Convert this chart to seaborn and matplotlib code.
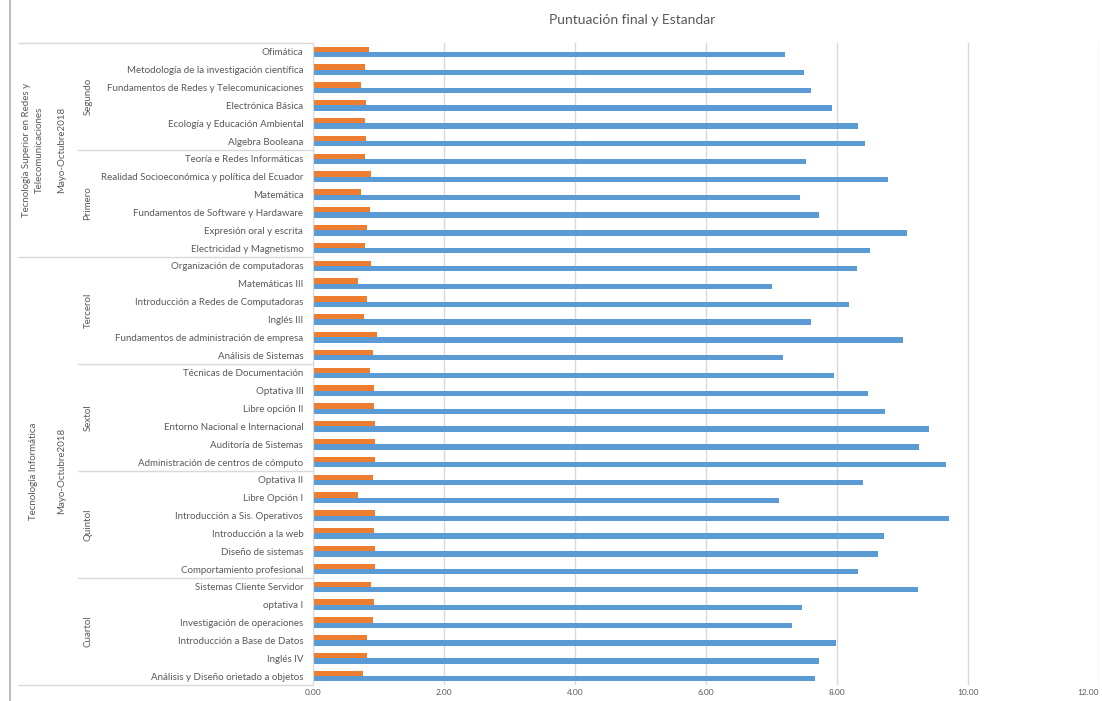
import numpy as np
import pandas as pd
import seaborn as sns
import matplotlib.pyplot as plt
from matplotlib.transforms import blended_transform_factory


# subjects top to bottom as shown in the chart
subjects = [
    'Ofimática', 'Metodología de la investigación científica',
    'Fundamentos de Redes y Telecomunicaciones', 'Electrónica Básica',
    'Ecología y Educación Ambiental', 'Algebra Booleana',
    'Teoría e Redes Informáticas', 'Realidad Socioeconómica y política del Ecuador',
    'Matemática', 'Fundamentos de Software y Hardaware',
    'Expresión oral y escrita', 'Electricidad y Magnetismo',
    'Organización de computadoras', 'Matemáticas III',
    'Introducción a Redes de Computadoras', 'Inglés III',
    'Fundamentos de administración de empresa', 'Análisis de Sistemas',
    'Técnicas de Documentación', 'Optativa III', 'Libre opción II',
    'Entorno Nacional e Internacional', 'Auditoría de Sistemas',
    'Administración de centros de cómputo',
    'Optativa II', 'Libre Opción I', 'Introducción a Sis. Operativos',
    'Introducción a la web', 'Diseño de sistemas', 'Comportamiento profesional',
    'Sistemas Cliente Servidor', 'optativa I', 'Investigación de operaciones',
    'Introducción a Base de Datos', 'Inglés IV', 'Análisis y Diseño orietado a objetos',
]
puntuacion_final = [
    7.21, 7.50, 7.60, 7.93, 8.32, 8.42,
    7.52, 8.78, 7.43, 7.72, 9.07, 8.50,
    8.30, 7.00, 8.18, 7.60, 9.01, 7.18,
    7.96, 8.48, 8.74, 9.40, 9.25, 9.67,
    8.40, 7.12, 9.71, 8.71, 8.63, 8.32,
    9.23, 7.46, 7.31, 7.98, 7.72, 7.66,
]
estandar = [
    0.85, 0.79, 0.74, 0.81, 0.79, 0.81,
    0.79, 0.89, 0.73, 0.87, 0.83, 0.79,
    0.89, 0.68, 0.83, 0.78, 0.97, 0.91,
    0.87, 0.93, 0.93, 0.95, 0.95, 0.95,
    0.91, 0.68, 0.95, 0.93, 0.95, 0.95,
    0.89, 0.93, 0.91, 0.83, 0.83, 0.76,
]
semesters = ['Segundo', 'Primero', 'Tercerol', 'Sextol', 'Quintol', 'Cuartol']
semester_counts = [6, 6, 6, 6, 6, 6]
careers = ['Tecnología Superior en Redes y\nTelecomunicaciones', 'Tecnología Informática']
career_counts = [12, 24]
periodo = 'Mayo-Octubre2018'

df = pd.DataFrame({
    'Asignatura': subjects * 2,
    'Serie': ['Puntuación final'] * len(subjects) + ['Estandar'] * len(subjects),
    'Valor': puntuacion_final + estandar,
})

sns.set_style('white')
plt.rcParams['font.family'] = ['Lato', 'DejaVu Sans']
gray = '#595959'
line_gray = '#D9D9D9'

W, H = 1102, 701
fig = plt.figure(figsize=(W / 100, H / 100), dpi=100)
ax = fig.add_axes([313 / W, 16 / H, 786 / W, 642 / H])

sns.barplot(data=df, x='Valor', y='Asignatura', hue='Serie', order=subjects,
            hue_order=['Estandar', 'Puntuación final'],
            palette={'Estandar': '#ED7D31', 'Puntuación final': '#5B9BD5'},
            saturation=1, orient='h', width=0.6, linewidth=0, errorbar=None,
            legend=False, ax=ax)

ax.set_xlim(0, 12)
ax.set_ylim(len(subjects) - 0.5, -0.5)
ax.set_xticks(np.arange(0, 13, 2))
ax.xaxis.set_major_formatter('{x:.2f}')
ax.set_xlabel('')
ax.set_ylabel('')
ax.xaxis.grid(True, color=line_gray, lw=1)
ax.set_axisbelow(True)
for s in ['top', 'right', 'bottom']:
    ax.spines[s].set_visible(False)
ax.spines['left'].set_color(line_gray)
ax.tick_params(axis='x', length=0, pad=3, labelsize=6, labelcolor=gray)
ax.tick_params(axis='y', length=0, pad=7, labelsize=7, labelcolor=gray)
# last x label sits on the figure edge; keep it inside
ax.get_xticklabels()[-1].set_ha('right')

fig.text(632 / W, 1 - 20 / H, 'Puntuación final y Estandar', ha='center', va='center',
         fontsize=10, color=gray)

# multi-level category labels
trans = blended_transform_factory(fig.transFigure, ax.transData)
edges = np.concatenate([[0], np.cumsum(career_counts)]) - 0.5
for i, name in enumerate(careers):
    mid = (edges[i] + edges[i + 1]) / 2
    ax.text(33 / W, mid, name, transform=trans, rotation=90, ha='center', va='center',
            fontsize=7, color=gray, linespacing=1.6, multialignment='center')
    ax.text(62 / W, mid, periodo, transform=trans, rotation=90, ha='center', va='center',
            fontsize=7, color=gray)
for y in edges:
    ax.plot([18 / W, 313 / W], [y, y], transform=trans, color=line_gray, lw=1, clip_on=False)

sem_edges = np.concatenate([[0], np.cumsum(semester_counts)]) - 0.5
for i, name in enumerate(semesters):
    mid = (sem_edges[i] + sem_edges[i + 1]) / 2
    ax.text(88 / W, mid, name, transform=trans, rotation=90, ha='center', va='center',
            fontsize=7, color=gray)
for y in sem_edges[1:-1]:
    if y not in edges:
        ax.plot([78 / W, 313 / W], [y, y], transform=trans, color=line_gray, lw=1, clip_on=False)

fig.add_artist(plt.Line2D([10 / W, 10 / W], [0, 1], transform=fig.transFigure,
                          color='#BFBFBF', lw=1.5))

fig.savefig('out.png', dpi=100)
